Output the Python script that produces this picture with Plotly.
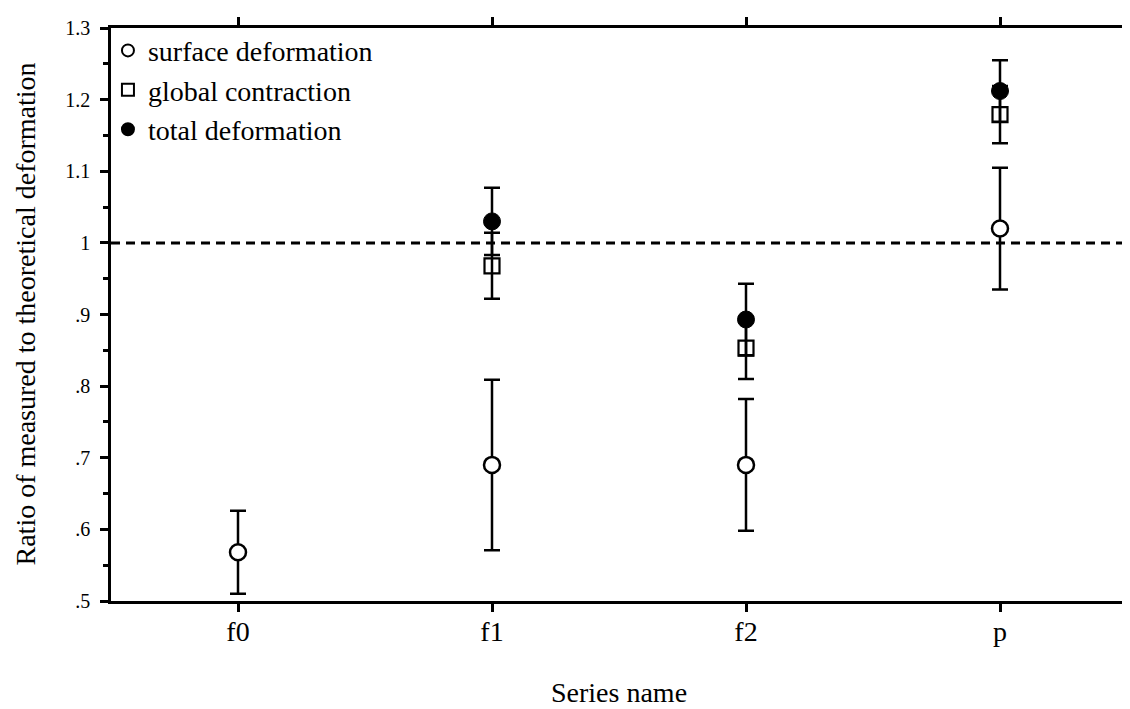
import plotly.graph_objects as go

categories = ["f0", "f1", "f2", "p"]

surface_x = ["f0", "f1", "f2", "p"]
surface_val = [0.568, 0.690, 0.690, 1.020]
surface_err = [0.058, 0.119, 0.092, 0.085]

global_x = ["f1", "f2", "p"]
global_val = [0.968, 0.853, 1.179]
global_err = [0.046, 0.043, 0.040]

total_x = ["f1", "f2", "p"]
total_val = [1.030, 0.893, 1.212]
total_err = [0.047, 0.050, 0.043]

reference_level = 1.0

y_tickvals = [0.5, 0.6, 0.7, 0.8, 0.9, 1.0, 1.1, 1.2, 1.3]
y_ticktext = [".5", ".6", ".7", ".8", ".9", "1", "1.1", "1.2", "1.3"]

x_title = "Series name"
y_title = "Ratio of measured to theoretical deformation"

FONT = "Liberation Serif, Times New Roman, serif"

fig = go.Figure()

err_style = dict(type="data", symmetric=True, color="black", thickness=2.5, width=8)

fig.add_trace(go.Scatter(
    x=surface_x, y=surface_val, mode="markers", name="surface deformation",
    error_y=dict(array=surface_err, **err_style),
    marker=dict(symbol="circle", size=16, color="white",
                line=dict(color="black", width=2.5)),
))
fig.add_trace(go.Scatter(
    x=global_x, y=global_val, mode="markers", name="global contraction",
    error_y=dict(array=global_err, **err_style),
    marker=dict(symbol="square-open", size=15, color="black",
                line=dict(color="black", width=2.2)),
))
fig.add_trace(go.Scatter(
    x=total_x, y=total_val, mode="markers", name="total deformation",
    error_y=dict(array=total_err, **err_style),
    marker=dict(symbol="circle", size=17, color="black",
                line=dict(color="black", width=1)),
))

fig.add_hline(y=reference_level, line=dict(color="black", width=3, dash="9px,6px"),
              layer="below")

fig.update_xaxes(
    type="category", categoryorder="array", categoryarray=categories,
    range=[-0.5, 3.5],
    showline=True, linecolor="black", linewidth=2.5, mirror="ticks",
    ticks="outside", ticklen=8, tickwidth=2.5, tickcolor="black",
    tickfont=dict(family=FONT, size=28, color="black"),
    ticklabelstandoff=-4,
    showgrid=False, zeroline=False,
)
fig.update_yaxes(
    range=[0.5, 1.3],
    tickvals=y_tickvals, ticktext=y_ticktext,
    showline=True, linecolor="black", linewidth=2.5, mirror=True,
    ticks="outside", ticklen=8, tickwidth=2.5, tickcolor="black",
    tickfont=dict(family=FONT, size=20, color="black"),
    ticklabelstandoff=6,
    minor=dict(ticks="outside", ticklen=5, tickwidth=2.5, tickcolor="black",
               dtick=0.05, tick0=0.5, showgrid=False),
    showgrid=False, zeroline=False,
)

fig.add_annotation(text=y_title, xref="paper", yref="paper", x=0, y=0.5,
                   xshift=-86, textangle=-90, showarrow=False,
                   xanchor="center", yanchor="middle",
                   font=dict(family=FONT, size=28, color="black"))
fig.add_annotation(text=x_title, xref="paper", yref="paper", x=0.5, y=0,
                   yshift=-91, showarrow=False,
                   xanchor="center", yanchor="middle",
                   font=dict(family=FONT, size=28, color="black"))

fig.update_layout(
    width=1130, height=709,
    margin=dict(l=103, r=8, t=20, b=116),
    paper_bgcolor="white", plot_bgcolor="white",
    showlegend=True,
    legend=dict(x=-0.003, y=1.004, xanchor="left", yanchor="top",
                bgcolor="rgba(0,0,0,0)", borderwidth=0,
                font=dict(family=FONT, size=28, color="black"),
                itemsizing="constant", tracegroupgap=0),
)

fig.write_html("out.html")
